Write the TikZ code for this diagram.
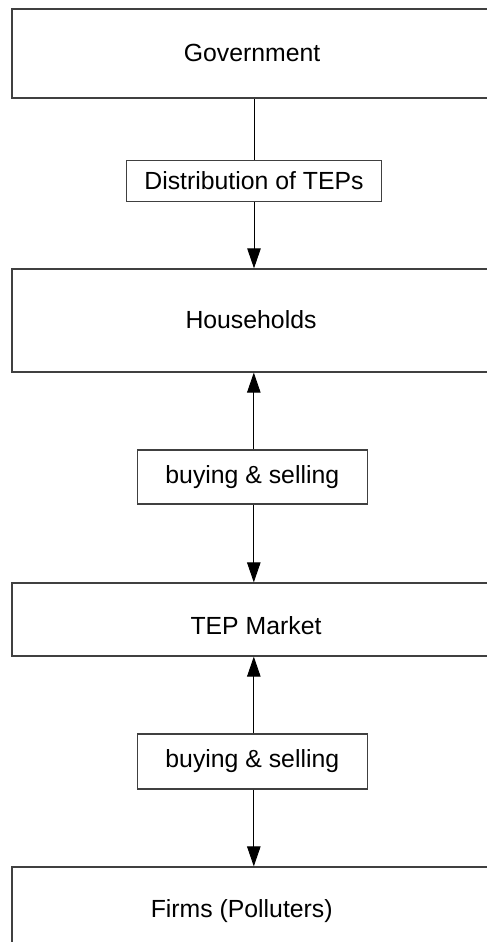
\documentclass[tikz,border=0pt]{standalone}
\usepackage{fontspec}
\setmainfont{Liberation Sans}
\usetikzlibrary{arrows.meta}
\def\txt{\fontsize{24.8}{30}\selectfont}

\begin{document}
\begin{tikzpicture}[x=1pt,y=-1pt,>={Triangle[width=13.5pt,length=20pt]},
  line width=0.9pt,
  big box/.style={rectangle,draw=black!75,line width=1.3pt,minimum width=488pt,inner sep=0pt},
  small box/.style={rectangle,draw=black!75,line width=1.1pt,inner sep=0pt,font=\txt},
  label text/.style={anchor=base,inner sep=0pt,font=\txt}]
  \useasboundingbox (0,0) rectangle (487,942);
  \begin{scope}
    % agents and market
    \node[big box,minimum height=89pt] (gov) at (256,53.5) {};
    \node[big box,minimum height=103pt] (house) at (256,320.5) {};
    \node[big box,minimum height=73pt] (market) at (256,619.5) {};
    \node[big box,minimum height=113pt] (firms) at (256,923.5) {};
    \node[label text] (govtxt) at (252,61.7) {Government};
    \node[label text] (housetxt) at (251,328.3) {Households};
    \node[label text] (markettxt) at (256,634) {TEP Market};
    \node[label text] (firmstxt) at (241.7,917.3) {Firms (Polluters)};

    % flows
    \node[small box,minimum width=255pt,minimum height=41.7pt] (dist) at (254,181) {Distribution of TEPs};
    \node[small box,minimum width=230pt,minimum height=54pt] (buy1) at (252.3,477) {buying \& selling};
    \node[small box,minimum width=230pt,minimum height=55pt] (buy2) at (252.3,761.5) {buying \& selling};

    \draw (dist.north) -- (dist.north |- gov.south);
    \draw[->] (dist.south) -- (dist.south |- house.north);
    \draw[->] ([xshift=1.5pt]buy1.north) -- ([xshift=1.5pt]buy1.north |- house.south);
    \draw[->] ([xshift=1.5pt]buy1.south) -- ([xshift=1.5pt]buy1.south |- market.north);
    \draw[->] ([xshift=1.5pt]buy2.north) -- ([xshift=1.5pt]buy2.north |- market.south);
    \draw[->] ([xshift=1.5pt]buy2.south) -- ([xshift=1.5pt]buy2.south |- firms.north);
  \end{scope}
\end{tikzpicture}
\end{document}
